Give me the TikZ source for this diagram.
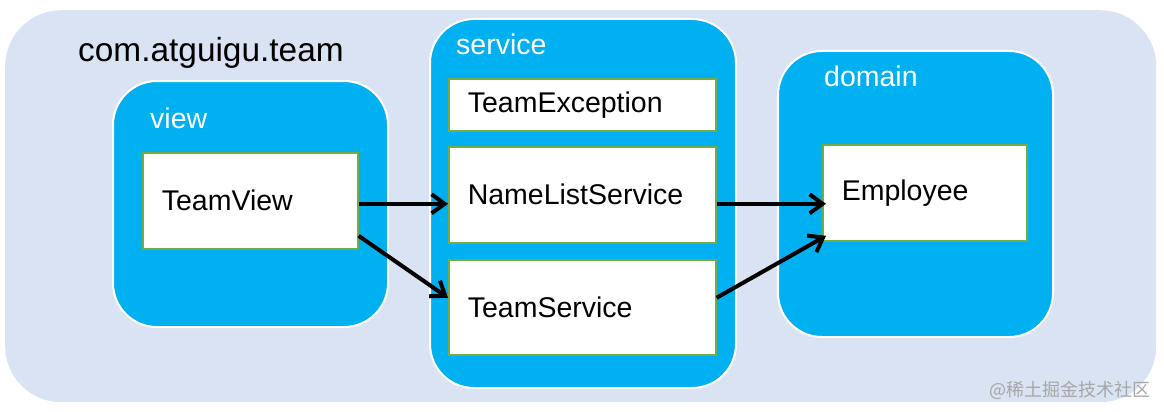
\documentclass[tikz,border=0pt]{standalone}
\usepackage{fontspec}
\setmainfont{Liberation Sans}
\newfontfamily\cjk{Noto Sans CJK SC}
\usetikzlibrary{arrows.meta,calc}
\definecolor{bgc}{HTML}{DAE3F3}
\definecolor{pkg}{HTML}{00B0F0}
\definecolor{bord}{HTML}{70AD47}
\definecolor{wm}{HTML}{A6A6A6}
\begin{document}
\begin{tikzpicture}[x=1pt,y=-1pt,
  bigfont/.style={font=\fontsize{28.5}{34}\selectfont},
  pkgbox/.style={fill=pkg,draw=white,line width=2pt,rounded corners=44pt,anchor=north west,inner sep=0pt},
  classbox/.style={fill=white,draw=bord,line width=1.6pt,anchor=north west,inner xsep=19pt,inner ysep=0pt,align=left,bigfont},
  pkglabel/.style={anchor=base west,inner sep=0pt,text=white,bigfont},
  arr/.style={line width=4pt,-{Straight Barb[length=13pt,width=19pt]}}]
\useasboundingbox (0,0) rectangle (1164,412);
\node[fill=bgc,rounded corners=56pt,minimum width=1151pt,minimum height=392pt,anchor=north west,inner sep=0pt] (bg) at (5,10) {};
\node[anchor=base west,inner sep=0pt,font=\fontsize{33.4}{40}\selectfont] (pkgname) at (78,62) {com.atguigu.team};
% containers
\node[pkgbox,minimum width=275pt,minimum height=246pt] (view) at (112,80) {};
\node[pkgbox,minimum width=306pt,minimum height=369pt] (service) at (429,18) {};
\node[pkgbox,minimum width=275pt,minimum height=286pt] (domain) at (777,50) {};
\node[pkglabel] (viewlbl) at (150,128) {view};
\node[pkglabel] (servicelbl) at (456,55) {service};
\node[pkglabel] (domainlbl) at (824,86) {domain};
% classes
\node[classbox,text width=177pt,minimum height=96pt] (tv) at (142,152) {TeamView};
\node[classbox,text width=229pt,minimum height=52pt] (te) at (448,78) {TeamException};
\node[classbox,text width=229pt,minimum height=96pt] (nls) at (448,146) {NameListService};
\node[classbox,text width=229pt,minimum height=95pt] (ts) at (448,259) {TeamService};
\node[classbox,text width=166pt,minimum height=96pt] (emp) at (822,144) {Employee};
% arrows
\draw[arr] ([shift={(0,3)}]tv.east) -- ([shift={(0,9)}]nls.west);
\draw[arr] ([shift={(0,35)}]tv.east) -- ([shift={(0,-9.5)}]ts.west);
\draw[arr] ([shift={(0,9)}]nls.east) -- ([shift={(4,11)}]emp.west);
\draw[arr] ([shift={(0,-9.5)}]ts.east) -- ([shift={(4,43)}]emp.west);
% watermark
\node[anchor=base east,inner sep=0pt,text=wm,font=\cjk\fontsize{18}{20}\selectfont] (wmark) at (1151,396) {@稀土掘金技术社区};
\end{tikzpicture}
\end{document}
